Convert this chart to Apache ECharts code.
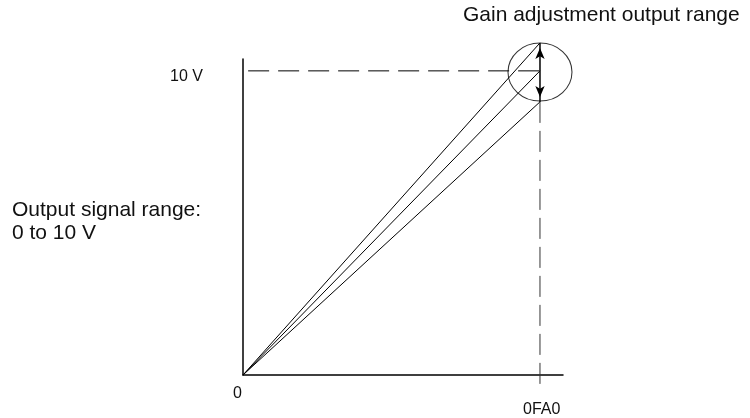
<!DOCTYPE html>
<html>
<head>
<meta charset="utf-8">
<script src="https://cdn.jsdelivr.net/npm/echarts@6/dist/echarts.min.js"></script>
<style>html,body{margin:0;padding:0;background:#fff}#c{width:750px;height:418px}</style>
</head>
<body>
<div id="c"></div>
<script>
// Data (x in counts, 0FA0 hex = 4000; y in volts)
var fullScaleX = 4000;            // 0FA0
var gainOutputs = [10.92, 10.0, 8.98]; // output voltage at full scale for max / nominal / min gain
var nominalV = 10;
var xTickLabels = ['0', '0FA0'];
var yTickLabels = ['10 V'];
var titleText = 'Gain adjustment output range';
var yDescLines = ['Output signal range:', '0 to 10 V'];

var FONT = '"Liberation Sans", Arial, Helvetica, sans-serif';
var chart = echarts.init(document.getElementById('c'), null, {renderer: 'canvas'});

var raySeries = gainOutputs.map(function (v) {
  return {
    type: 'line', clip: false, symbol: 'none', silent: true,
    data: [[0, 0], [fullScaleX, v]],
    lineStyle: {color: '#000', width: 1}
  };
});

chart.setOption({
  animation: false,
  backgroundColor: '#fff',
  grid: {left: 243, right: 187, top: 59, bottom: 43},
  xAxis: {
    type: 'value', min: 0, max: 4310,
    axisLine: {show: true, onZero: false, lineStyle: {color: '#000', width: 1.5}},
    axisTick: {show: false}, axisLabel: {show: false}, splitLine: {show: false}
  },
  yAxis: {
    type: 'value', min: 0, max: 10.39,
    axisLine: {show: true, onZero: false, lineStyle: {color: '#000', width: 1.5}},
    axisTick: {show: false}, axisLabel: {show: false}, splitLine: {show: false}
  },
  series: raySeries.concat([
    { // horizontal dashed reference at 10 V
      type: 'line', clip: false, symbol: 'none', silent: true,
      data: [[-335, nominalV], [fullScaleX, nominalV]],
      lineStyle: {color: '#000', width: 1, type: [21, 9]}
    },
    { // vertical dashed reference at 0FA0
      type: 'line', clip: false, symbol: 'none', silent: true,
      data: [[fullScaleX, gainOutputs[2]], [fullScaleX, -0.4]],
      lineStyle: {color: '#333', width: 1, type: [21, 8]}
    },
    { // double arrow showing gain adjustment range
      type: 'line', clip: false, silent: true, showSymbol: true, showAllSymbol: true,
      lineStyle: {color: '#000', width: 1.5},
      itemStyle: {color: '#000', borderWidth: 0},
      data: [
        {value: [fullScaleX, gainOutputs[2]], symbol: 'arrow', symbolSize: [7, 11], symbolRotate: 180, symbolOffset: [0, -5]},
        {value: [fullScaleX, gainOutputs[0]], symbol: 'arrow', symbolSize: [7, 11], symbolRotate: 0, symbolOffset: [0, 5]}
      ]
    },
    { // adjustment range circle
      type: 'scatter', clip: false, silent: true,
      data: [[fullScaleX, nominalV - 0.04]],
      symbol: 'circle', symbolSize: [64, 58],
      itemStyle: {color: 'rgba(0,0,0,0)', borderColor: '#000', borderWidth: 1}
    }
  ]),
  graphic: [
    {type: 'text', left: 463, top: 5, style: {text: titleText, font: '21px ' + FONT, fill: '#111'}},
    {type: 'text', left: 12, top: 199, style: {text: yDescLines.join('\n'), font: '21px ' + FONT, lineHeight: 23, fill: '#111'}},
    {type: 'text', left: 170, top: 69, style: {text: yTickLabels[0], font: '16px ' + FONT, fill: '#111'}},
    {type: 'text', left: 233, top: 386, style: {text: xTickLabels[0], font: '16px ' + FONT, fill: '#111'}},
    {type: 'text', left: 523, top: 402, style: {text: xTickLabels[1], font: '16px ' + FONT, fill: '#111'}}
  ]
});
</script>
</body>
</html>
